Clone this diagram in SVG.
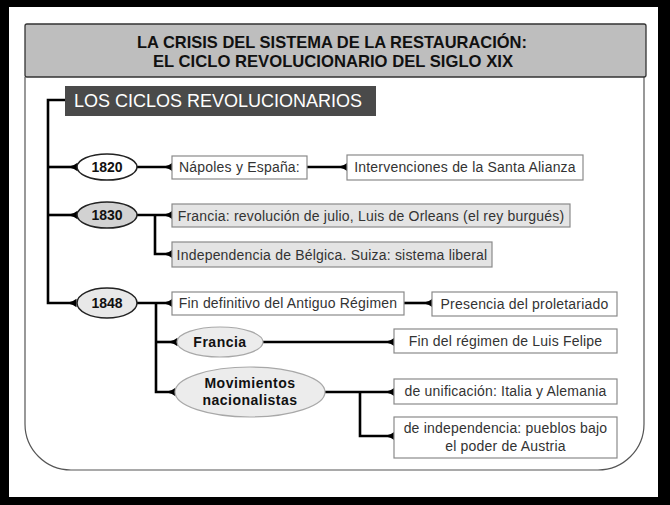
<svg xmlns="http://www.w3.org/2000/svg" width="670" height="505" viewBox="0 0 670 505">
<defs>
<style>
text{font-family:"Liberation Sans",Arial,sans-serif;}
.box{fill:#ffffff;stroke:#8a8a8a;stroke-width:1.2;}
.gbox{fill:#e4e4e4;stroke:#8a8a8a;stroke-width:1.2;}
.t{font-size:14px;fill:#333;text-anchor:middle;letter-spacing:0.2px;}
.yr{font-size:14px;font-weight:bold;fill:#111;text-anchor:middle;}
.bt{font-size:14px;font-weight:bold;fill:#111;text-anchor:middle;letter-spacing:0.5px;}
.ell{stroke:#222;stroke-width:1.5;}
.ell2{fill:#ececec;stroke:#a8a8a8;stroke-width:1.2;}
.con path{fill:none;stroke:#000;stroke-width:2.6;}
.arr path{marker-end:url(#cap);}
.hd{font-size:17px;font-weight:bold;fill:#111;text-anchor:middle;}
</style>
<marker id="cap" viewBox="-8 -5 9 10" refX="0" refY="0" markerWidth="9" markerHeight="10" markerUnits="userSpaceOnUse" orient="auto">
<path d="M0.5,-4.2 Q-3,-1.4 -7,-0.8 L-7,0.8 Q-3,1.4 0.5,4.2 Z" fill="#000"/>
</marker>
</defs>
<rect x="0" y="0" width="670" height="505" fill="#000"/>
<rect x="9" y="7" width="649" height="490" fill="#fff"/>
<g id="panel">
<path d="M25,77 V424 A46,46 0 0 0 71,470 H598 A46,46 0 0 0 644,424 V77" fill="#fff" stroke="#555" stroke-width="1.2"/>
</g>
<g id="header">
<rect x="25" y="24" width="621" height="53" rx="2" fill="#bebebe" stroke="#333" stroke-width="1.3"/>
<text class="hd" x="332" y="48" textLength="390" lengthAdjust="spacingAndGlyphs">LA CRISIS DEL SISTEMA DE LA RESTAURACIÓN:</text>
<text class="hd" x="333" y="67" textLength="360" lengthAdjust="spacingAndGlyphs">EL CICLO REVOLUCIONARIO DEL SIGLO XIX</text>
</g>
<g id="connectors" class="con">
<path d="M65,100 H48 V303 H76" style="marker-end:url(#cap)"/>
<g class="arr">
<path d="M48,167 H77"/>
<path d="M48,215 H77"/>
<path d="M137,167 H172"/>
<path d="M307,167 H347"/>
<path d="M137,215 H172"/>
<path d="M155,215 V254 H172"/>
<path d="M137,303 H172"/>
<path d="M156,303 V392 H175"/>
<path d="M156,342 H177"/>
<path d="M404,303 H432"/>
<path d="M263,342 H394"/>
<path d="M325,392 H394"/>
<path d="M360,392 V436 H394"/>
</g>
</g>
<g id="title-ciclos">
<rect x="65" y="86" width="311" height="30" fill="#4a4a4a"/>
<text x="74" y="107" font-size="18" fill="#fff">LOS CICLOS REVOLUCIONARIOS</text>
</g>
<g id="n1820">
<ellipse class="ell" cx="107" cy="167" rx="30" ry="13" fill="#fff"/>
<text class="yr" x="107" y="172">1820</text>
</g>
<g id="n1830">
<ellipse class="ell" cx="107" cy="215" rx="30" ry="13" fill="#d2d2d2"/>
<text class="yr" x="107" y="220">1830</text>
</g>
<g id="n1848">
<ellipse class="ell" cx="107" cy="303" rx="30" ry="15" fill="#e8e8e8"/>
<text class="yr" x="107" y="308">1848</text>
</g>
<g id="napoles">
<rect class="box" x="172" y="156" width="135" height="23"/>
<text class="t" x="239.5" y="172">Nápoles y España:</text>
</g>
<g id="intervenciones">
<rect class="box" x="347" y="155" width="236" height="25"/>
<text class="t" x="465" y="172">Intervenciones de la Santa Alianza</text>
</g>
<g id="francia1830">
<rect class="gbox" x="172" y="204" width="398" height="23"/>
<text class="t" x="371" y="220.5">Francia: revolución de julio, Luis de Orleans (el rey burgués)</text>
</g>
<g id="belgica">
<rect class="gbox" x="172" y="242" width="320" height="25"/>
<text class="t" x="332" y="259.5">Independencia de Bélgica. Suiza: sistema liberal</text>
</g>
<g id="fin-antiguo">
<rect class="box" x="172" y="292" width="232" height="23"/>
<text class="t" x="288" y="308">Fin definitivo del Antiguo Régimen</text>
</g>
<g id="proletariado">
<rect class="box" x="432" y="292" width="185" height="24"/>
<text class="t" x="524.5" y="308.5">Presencia del proletariado</text>
</g>
<g id="francia1848">
<ellipse class="ell2" cx="220" cy="342" rx="43" ry="15"/>
<text class="bt" x="220" y="347">Francia</text>
</g>
<g id="luis-felipe">
<rect class="box" x="394" y="329" width="223" height="24"/>
<text class="t" x="505.5" y="346">Fin del régimen de Luis Felipe</text>
</g>
<g id="movimientos">
<ellipse class="ell2" cx="250" cy="392" rx="75" ry="25"/>
<text class="bt" x="250" y="388">Movimientos</text>
<text class="bt" x="250" y="405">nacionalistas</text>
</g>
<g id="unificacion">
<rect class="box" x="394" y="379" width="223" height="25"/>
<text class="t" x="505.5" y="396">de unificación: Italia y Alemania</text>
</g>
<g id="independencia">
<rect class="box" x="394" y="417" width="223" height="41"/>
<text class="t" x="505.5" y="433">de independencia: pueblos bajo</text>
<text class="t" x="505.5" y="451">el poder de Austria</text>
</g>
</svg>
